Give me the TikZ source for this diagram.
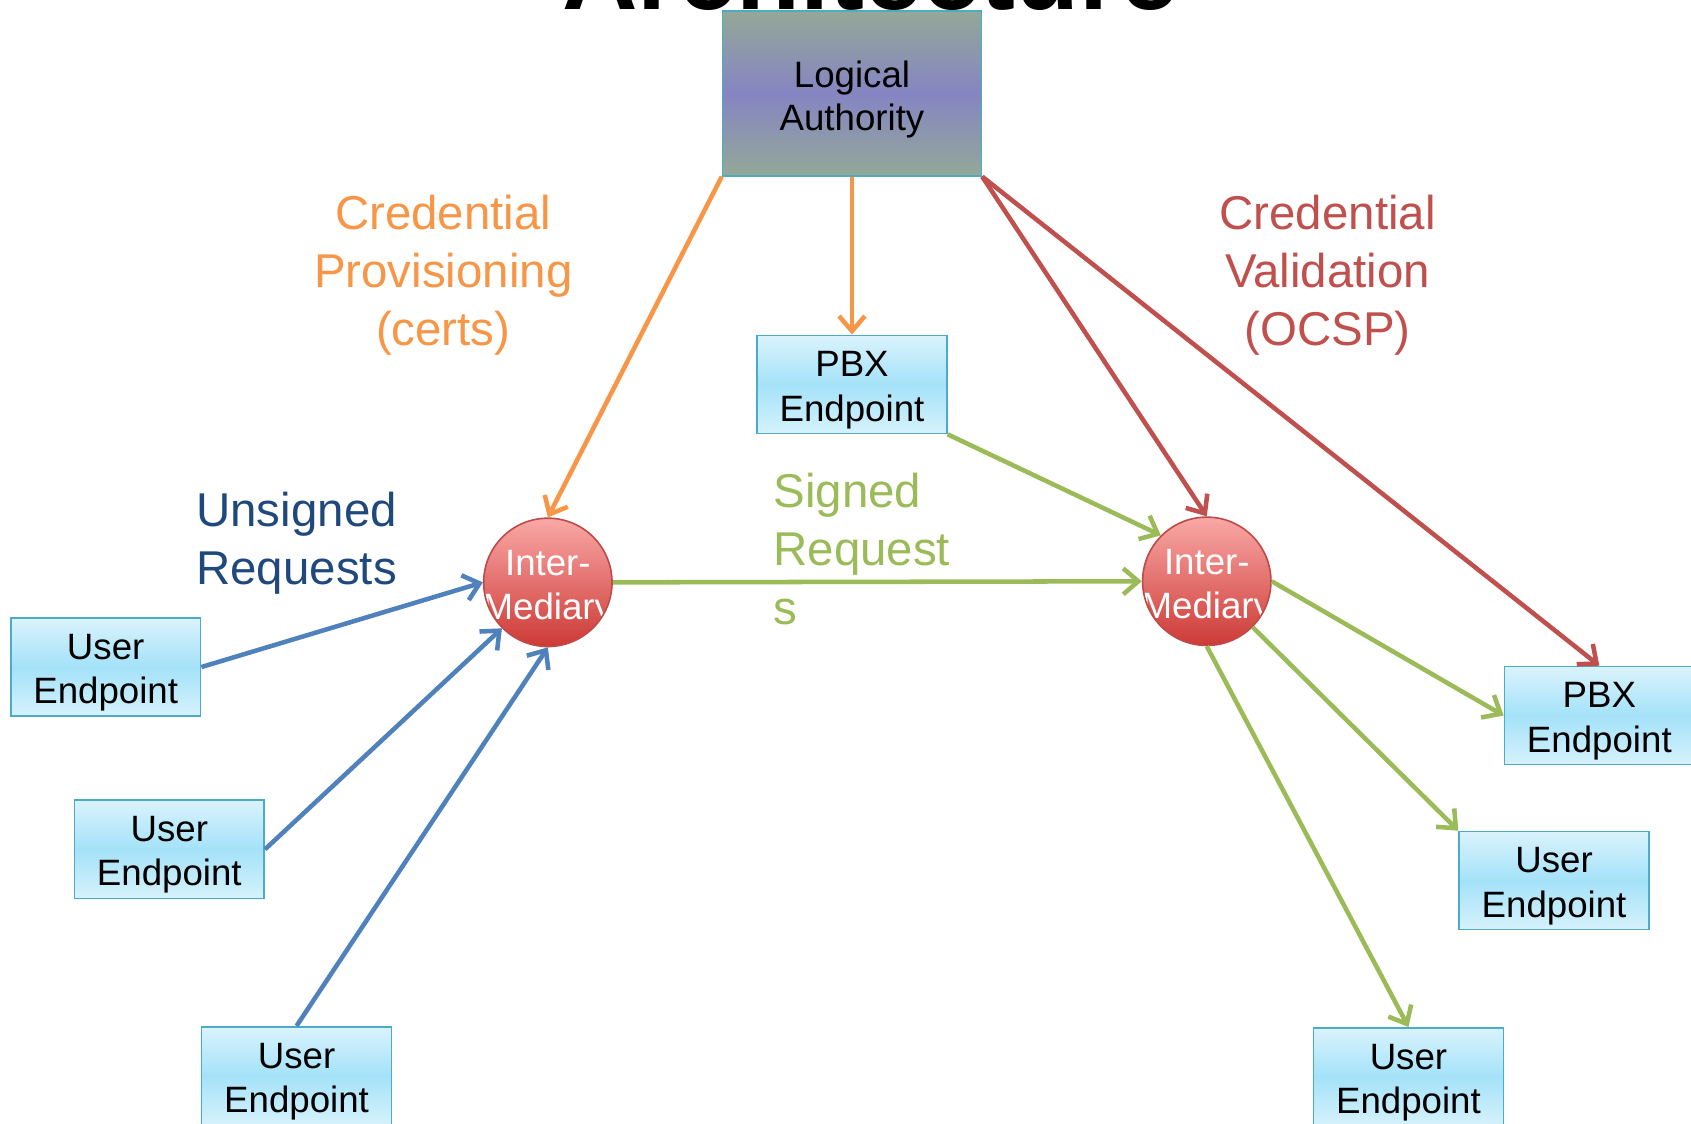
\documentclass[tikz,border=0pt]{standalone}
\usepackage{fontspec}
\setmainfont{Liberation Sans}
\usetikzlibrary{arrows.meta}
\definecolor{laTop}{RGB}{148,168,152}
\definecolor{laMid}{RGB}{133,133,194}
\definecolor{bxBorder}{RGB}{75,172,198}
\definecolor{bxTop}{RGB}{218,243,253}
\definecolor{bxMid}{RGB}{164,226,249}
\definecolor{bxBot}{RGB}{214,242,252}
\definecolor{ciTop}{RGB}{249,168,166}
\definecolor{ciBot}{RGB}{205,58,54}
\definecolor{ciBorder}{RGB}{190,75,72}
\definecolor{cOrange}{RGB}{247,150,70}
\definecolor{cRed}{RGB}{192,80,77}
\definecolor{cGreen}{RGB}{155,187,89}
\definecolor{cBlue}{RGB}{79,129,189}
\definecolor{cNavy}{RGB}{31,73,125}
\newcommand{\lowr}{\rule{0pt}{34pt}}
\begin{document}
\begin{tikzpicture}[x=1pt,y=-1pt,
  endbox/.style={draw=bxBorder, line width=1.5pt, rectangle, minimum width=176pt, minimum height=91pt,
    inner sep=0pt, top color=bxTop, bottom color=bxBot, middle color=bxMid, align=center,
    font=\fontsize{34}{41}\selectfont},
  interm/.style={circle, draw=ciBorder, line width=1.5pt, minimum size=119pt, inner sep=0pt,
    top color=ciTop, bottom color=ciBot,
    path picture={\node[text=white, align=center, font=\fontsize{34}{41}\selectfont]
      at ([yshift=-6pt]path picture bounding box.center) {Inter-\\Mediary};}},
  conn/.style={line width=4.2pt, -{Straight Barb[length=14pt,width=24pt]}},
  lbl/.style={align=center, font=\fontsize{44}{54}\selectfont}
]
\clip (0,0) rectangle (1568,1042);
\fill[white] (0,0) rectangle (1568,1042);

% title (cut off at top)
\node[anchor=base, inner sep=0pt, font=\fontsize{97}{100}\selectfont\bfseries] (title) at (807,8.5) {Architecture};

% nodes
\node[draw=bxBorder, line width=1.5pt, rectangle, minimum width=240pt, minimum height=153pt, inner sep=0pt,
  top color=laTop, bottom color=laTop, middle color=laMid, align=center,
  font=\fontsize{34}{40}\selectfont] (LA) at (790,86.5) {\rule{0pt}{36pt}Logical\\Authority};

\node[endbox] (PBX1) at (790,356.5) {\lowr PBX\\Endpoint};
\node[endbox] (UL1) at (98,618.5) {\lowr User\\Endpoint};
\node[endbox] (UL2) at (157,787.5) {\lowr User\\Endpoint};
\node[endbox] (UL3) at (275,997.5) {\lowr User\\Endpoint};
\node[endbox] (PBX2) at (1483,663.5) {\lowr PBX\\Endpoint};
\node[endbox] (UR1) at (1441,816.5) {\lowr User\\Endpoint};
\node[endbox] (UR2) at (1306,998.5) {\lowr User\\Endpoint};

\node[interm] (IL) at (508,540) {};
\node[interm] (IR) at (1119,539) {};

% labels
\node[lbl, text=cOrange] (lprov) at (411,255) {Credential\\Provisioning\\(certs)};
\node[lbl, text=cRed] (lval) at (1231,255) {Credential\\Validation\\(OCSP)};
\node[lbl, text=cNavy] (lunsig) at (275,504) {Unsigned\\Requests};
\node[lbl, text=cGreen, align=left, anchor=west, inner sep=0pt] (lsig) at (717,509) {Signed\\Request\\s};

% connectors
\draw[conn, cOrange] (LA.south west) -- (IL.north);
\draw[conn, cOrange] (LA.south) -- (PBX1.north);
\draw[conn, cRed] (LA.south east) -- (IR.north);
\draw[conn, cRed] (LA.south east) -- (PBX2.north);
\draw[conn, cGreen] (PBX1.south east) -- (IR.135);
\draw[conn, cGreen] (IL.east) -- (IR.west);
\draw[conn, cGreen] (IR.east) -- (PBX2.west);
\draw[conn, cGreen] (IR.-45) -- (UR1.north west);
\draw[conn, cGreen] (IR.south) -- (UR2.north);
\draw[conn, cBlue] (UL1.east) -- (IL.west);
\draw[conn, cBlue] (UL2.east) -- (IL.225);
\draw[conn, cBlue] (UL3.north) -- (IL.south);
\end{tikzpicture}
\end{document}
